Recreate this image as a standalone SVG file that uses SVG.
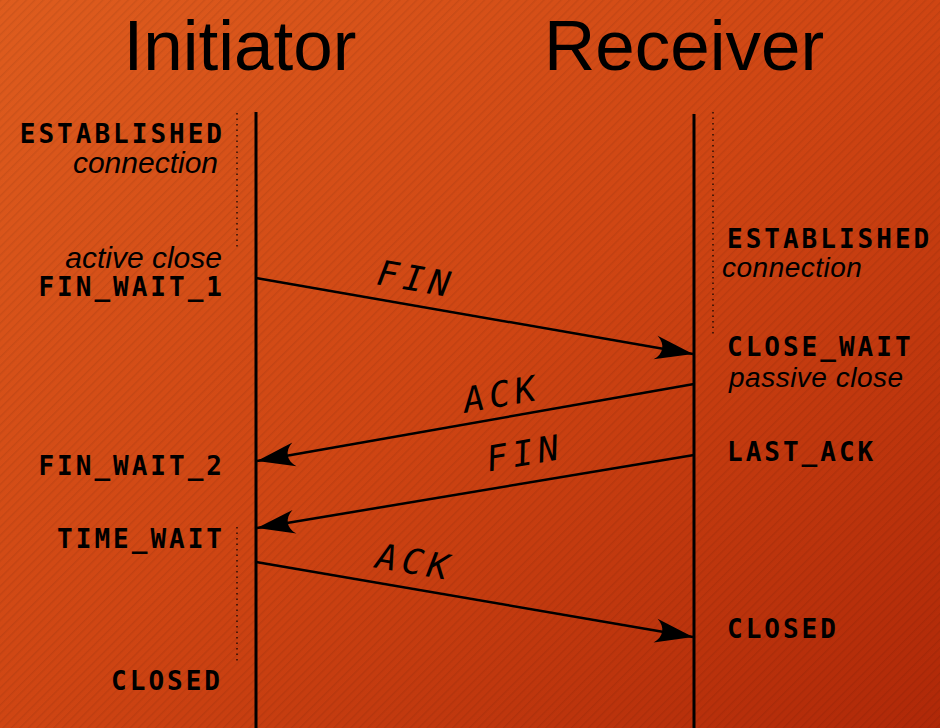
<svg xmlns="http://www.w3.org/2000/svg" width="940" height="728" viewBox="0 0 940 728">
<defs>
<linearGradient id="bg" x1="0" y1="0" x2="1" y2="1">
<stop offset="0" stop-color="#de5c1e"/>
<stop offset="0.5" stop-color="#cf4513"/>
<stop offset="1" stop-color="#b02808"/>
</linearGradient>
<pattern id="hatch" width="6" height="6" patternUnits="userSpaceOnUse" patternTransform="rotate(45)">
<rect x="0" y="0" width="1.5" height="6" fill="#000" fill-opacity="0.07"/>
</pattern>
<marker id="ah" markerUnits="userSpaceOnUse" viewBox="-40 -14 42 28" refX="0" refY="0" markerWidth="42" markerHeight="28" orient="auto" overflow="visible">
<path d="M0,0 L-38,-12 C-29,-5 -29,5 -38,12 Z" fill="#000"/>
</marker>
</defs>
<style>
.life{stroke:#000;stroke-width:3;fill:none}
.dot{stroke:#000;stroke-width:1.5;stroke-dasharray:1.5 4;fill:none;opacity:0.8}
.msg{stroke:#000;stroke-width:2.5;fill:none;marker-end:url(#ah)}
.title{font-family:"Liberation Sans",Arial,sans-serif;font-size:71px;fill:#000;text-anchor:middle}
.state{font-family:"DejaVu Sans Mono","Liberation Mono",monospace;font-weight:bold;font-size:26px;letter-spacing:3px;fill:#000}
.note{font-family:"Liberation Sans",Arial,sans-serif;font-style:italic;font-size:30px;fill:#000}
.sm{font-size:28px;letter-spacing:0.5px}
.lbl{font-family:"DejaVu Sans Mono","Liberation Mono",monospace;font-style:oblique;font-size:35px;letter-spacing:5px;fill:#000;text-anchor:middle}
.l{text-anchor:end}
</style>
<rect width="940" height="728" fill="url(#bg)"/>
<rect width="940" height="728" fill="url(#hatch)"/>

<g id="initiator">
<text class="title" x="240" y="70">Initiator</text>
<line class="life" x1="256" y1="112" x2="256" y2="728"/>
<line class="dot" x1="237" y1="113" x2="237" y2="250"/>
<line class="dot" x1="237" y1="527" x2="237" y2="662"/>
</g>
<g id="receiver">
<text class="title" x="684" y="70">Receiver</text>
<line class="life" x1="694" y1="114" x2="694" y2="728"/>
<line class="dot" x1="713" y1="112" x2="713" y2="336"/>
</g>

<g id="init-states">
<text class="state l" x="225" y="143">ESTABLISHED</text>
<text class="note l" x="218" y="173">connection</text>
<text class="note l" x="222" y="268">active close</text>
<text class="state l" x="225" y="296">FIN_WAIT_1</text>
<text class="state l" x="225" y="475">FIN_WAIT_2</text>
<text class="state l" x="225" y="548">TIME_WAIT</text>
<text class="state l" x="223" y="690">CLOSED</text>
</g>
<g id="recv-states">
<text class="state" x="727" y="248">ESTABLISHED</text>
<text class="note sm" x="722" y="277">connection</text>
<text class="state" x="727" y="356">CLOSE_WAIT</text>
<text class="note sm" x="729" y="387">passive close</text>
<text class="state" x="727" y="461">LAST_ACK</text>
<text class="state" x="727" y="638">CLOSED</text>
</g>

<g id="connectors">
<line class="msg" x1="256" y1="278" x2="693" y2="354"/>
<line class="msg" x1="694" y1="384" x2="257" y2="461"/>
<line class="msg" x1="694" y1="455" x2="257" y2="528"/>
<line class="msg" x1="256" y1="562" x2="693" y2="637"/>
<text class="lbl" transform="translate(414,291) rotate(9.8)">FIN</text>
<text class="lbl" transform="translate(504,406) rotate(-10.1)">ACK</text>
<text class="lbl" transform="translate(527,465) rotate(-9.4)">FIN</text>
<text class="lbl" transform="translate(413,574) rotate(9.6)">ACK</text>
</g>
</svg>
